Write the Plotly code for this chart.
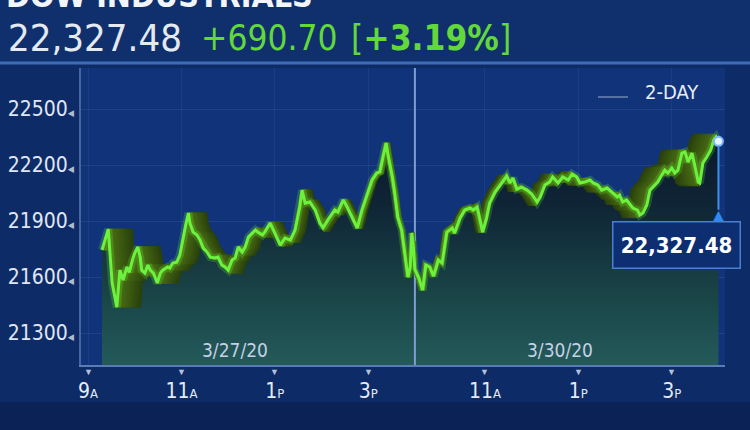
import plotly.graph_objects as go

# ---------------- data ----------------
INDEX_NAME = "DOW INDUSTRIALS"
LAST_VALUE = 22327.48
NET_CHANGE = 690.70
PCT_CHANGE = 3.19

DATES = ["3/27/20", "3/30/20"]

DAY1_TIMES = ["9:18", "9:26", "9:31", "9:37", "9:41", "9:45", "9:50", "9:53", "9:57", "10:00",
              "10:04", "10:07", "10:09", "10:13", "10:17", "10:20", "10:24", "10:29", "10:33", "10:36",
              "10:42", "10:45", "10:49", "10:54", "10:58", "11:02", "11:06", "11:09", "11:11", "11:15",
              "11:20", "11:24", "11:28", "11:33", "11:37", "11:43", "11:47", "11:52", "11:56", "12:00",
              "12:05", "12:09", "12:13", "12:18", "12:22", "12:26", "12:31", "12:35", "12:38", "12:44",
              "12:47", "12:54", "13:00", "13:07", "13:13", "13:20", "13:26", "13:32", "13:35", "13:39",
              "13:45", "13:52", "13:58", "14:02", "14:08", "14:17", "14:21", "14:28", "14:33", "14:39",
              "14:46", "14:52", "14:58", "15:05", "15:11", "15:15", "15:19", "15:23", "15:25", "15:31",
              "15:34", "15:38", "15:43", "15:47", "15:51", "15:54", "15:56", "15:58", "16:00"]
DAY1_VALUES = [21745, 21857, 21568, 21439, 21637, 21584, 21654, 21625, 21691, 21729,
               21761, 21707, 21637, 21621, 21664, 21637, 21621, 21568, 21621, 21637,
               21654, 21648, 21675, 21680, 21718, 21809, 21889, 21943, 21889, 21841,
               21825, 21798, 21755, 21734, 21707, 21702, 21707, 21664, 21654, 21637,
               21691, 21702, 21761, 21734, 21761, 21814, 21836, 21852, 21841, 21825,
               21841, 21889, 21836, 21771, 21809, 21798, 21852, 21975, 22066, 21996,
               22002, 21959, 21889, 21863, 21905, 21959, 21948, 22013, 21975, 21921,
               21863, 21959, 22029, 22120, 22157, 22163, 22243, 22318, 22264, 22136,
               22050, 21921, 21852, 21729, 21600, 21654, 21836, 21761, 21637]

DAY2_TIMES = ["9:30", "9:35", "9:40", "9:44", "9:49", "9:54", "10:00", "10:05", "10:11", "10:18",
              "10:21", "10:28", "10:34", "10:41", "10:45", "10:50", "10:54", "10:57", "11:02", "11:06",
              "11:13", "11:22", "11:28", "11:32", "11:36", "11:41", "11:47", "11:54", "12:00", "12:07",
              "12:11", "12:17", "12:23", "12:27", "12:34", "12:40", "12:47", "12:52", "12:58", "13:02",
              "13:09", "13:15", "13:19", "13:25", "13:30", "13:37", "13:43", "13:50", "13:53", "13:57",
              "14:02", "14:07", "14:10", "14:16", "14:19", "14:23", "14:28", "14:32", "14:36", "14:42",
              "14:47", "14:51", "14:55", "15:00", "15:04", "15:08", "15:13", "15:17", "15:21", "15:26",
              "15:30", "15:34", "15:36", "15:40", "15:45", "15:50", "15:54", "15:57", "16:00"]
DAY2_VALUES = [21640, 21595, 21530, 21664, 21654, 21605, 21691, 21675, 21841, 21863,
               21836, 21916, 21959, 21970, 21959, 21975, 21905, 21841, 21916, 21996,
               22055, 22109, 22141, 22104, 22130, 22071, 22082, 22066, 22045, 22002,
               22029, 22093, 22109, 22136, 22104, 22136, 22120, 22152, 22136, 22104,
               22110, 22120, 22104, 22093, 22066, 22077, 22055, 22029, 22039, 22002,
               22013, 21986, 21970, 21959, 21932, 21943, 21986, 22066, 22082, 22109,
               22146, 22173, 22157, 22184, 22157, 22173, 22264, 22270, 22216, 22264,
               22189, 22109, 22104, 22211, 22243, 22280, 22334, 22350, 22327.48]

Y_TICKS = [21300, 21600, 21900, 22200, 22500]
X_TICK_DAY1_HOURS = [9, 11, 13, 15]
X_TICK_DAY2_HOURS = [11, 13, 15]
X_TICK_LABELS = [("9", "A"), ("11", "A"), ("1", "P"), ("3", "P"), ("11", "A"), ("1", "P"), ("3", "P")]
RANGE_LABEL = "2-DAY"

# ---------------- axis mapping ----------------
OPEN_HOUR = 9.5
DAY_BREAK = 16.0          # day-1 close == day-2 open on the axis
X_MIN, X_MAX = 8.85, 22.64
Y_MIN, Y_MAX = 21129, 22720


def hrs(t):
    h, m = t.split(":")
    return int(h) + int(m) / 60.0


x1 = [hrs(t) for t in DAY1_TIMES]
x2 = [DAY_BREAK + hrs(t) - OPEN_HOUR for t in DAY2_TIMES]
x_all = x1 + x2
v_all = DAY1_VALUES + DAY2_VALUES
tick_x = X_TICK_DAY1_HOURS + [DAY_BREAK + h - OPEN_HOUR for h in X_TICK_DAY2_HOURS]

FONT = "'DejaVu Sans Condensed', 'Liberation Sans Narrow', sans-serif"

fig = go.Figure()

# dark gradient area under the line
fig.add_trace(go.Scatter(
    x=x_all, y=v_all, xaxis="x", yaxis="y", mode="lines", line=dict(width=0),
    fill="tozeroy",
    fillgradient=dict(type="vertical",
                      colorscale=[[0, "#245a5a"], [0.3, "#1a4547"], [0.7, "#0f2536"], [1, "#0b192d"]],
                      start=Y_MIN, stop=22350),
    hoverinfo="skip", showlegend=False))

# day divider
fig.add_trace(go.Scatter(x=[DAY_BREAK, DAY_BREAK], y=[Y_MIN, Y_MAX], xaxis="x", yaxis="y",
                         mode="lines", line=dict(color="#7d9dd2", width=2),
                         hoverinfo="skip", showlegend=False))

# 3D ribbon: copies of the series drawn on axes scaled toward the day break
N_COPIES = 12
K_MAX = 0.074
RIBBON_FAR = (42, 64, 13)
RIBBON_NEAR = (72, 108, 20)
layout_axes = {}
for i in range(N_COPIES):
    f = i / (N_COPIES - 1)
    k = K_MAX * (1 - f) + 0.006 * f
    col = "rgb({},{},{})".format(*[int(a + (b - a) * f) for a, b in zip(RIBBON_FAR, RIBBON_NEAR)])
    s = 1 - k
    a = DAY_BREAK - (DAY_BREAK - X_MIN) / s
    b = DAY_BREAK + (X_MAX - DAY_BREAK) / s
    layout_axes[f"xaxis{i + 2}"] = dict(overlaying="x", range=[a, b], visible=False, anchor="y")
    fig.add_trace(go.Scatter(x=x_all, y=v_all, xaxis=f"x{i + 2}", yaxis="y", mode="lines",
                             line=dict(color=col, width=4.5), hoverinfo="skip", showlegend=False))

# main line on top
top_axis = N_COPIES + 2
layout_axes[f"xaxis{top_axis}"] = dict(overlaying="x", range=[X_MIN, X_MAX], visible=False, anchor="y")
fig.add_trace(go.Scatter(x=x_all, y=v_all, xaxis=f"x{top_axis}", yaxis="y", mode="lines",
                         line=dict(color="rgba(110,245,60,0.22)", width=8),
                         hoverinfo="skip", showlegend=False))
fig.add_trace(go.Scatter(x=x_all, y=v_all, xaxis=f"x{top_axis}", yaxis="y", mode="lines",
                         line=dict(color="#6cf23c", width=3),
                         hoverinfo="skip", showlegend=False))
fig.add_trace(go.Scatter(x=[x_all[-1]], y=[v_all[-1]], xaxis=f"x{top_axis}", yaxis="y", mode="markers",
                         marker=dict(size=9, color="#eaf4ff", line=dict(color="#7fb8ff", width=2)),
                         cliponaxis=False, hoverinfo="skip", showlegend=False))

# ---------------- layout ----------------
H_PX = 297.0
W_PX = 644.0


def py(ypx):
    return (365 - ypx) / H_PX


def px(xpx):
    return (xpx - 81) / W_PX


y_ticktext = [f"{v}<span style='font-size:9px;color:#aebdd6'>\u25c0</span>" for v in Y_TICKS]
x_ticktext = [f"{a}<span style='font-size:13px'>{b}</span>" for a, b in X_TICK_LABELS]

annotations = []
# header
annotations.append(dict(text=f"<b>{INDEX_NAME}</b>", xref="paper", yref="paper", x=px(4), y=py(17),
                        xanchor="left", yanchor="bottom", showarrow=False,
                        font=dict(family=FONT, size=32, color="#f2f5fa")))
annotations.append(dict(text=f"{LAST_VALUE:,.2f}", xref="paper", yref="paper", x=px(6), y=py(38),
                        xanchor="left", yanchor="middle", showarrow=False,
                        font=dict(family=FONT, size=38, color="#e4eaf2")))
annotations.append(dict(text=f"+{NET_CHANGE:.2f}", xref="paper", yref="paper", x=px(199), y=py(38),
                        xanchor="left", yanchor="middle", showarrow=False,
                        font=dict(family=FONT, size=35, color="#63d83a")))
annotations.append(dict(text=f"[<b>+{PCT_CHANGE:.2f}%</b>]", xref="paper", yref="paper", x=px(349), y=py(38),
                        xanchor="left", yanchor="middle", showarrow=False,
                        font=dict(family=FONT, size=35, color="#63d83a")))
# range label
annotations.append(dict(text=RANGE_LABEL, xref="paper", yref="paper", x=px(672), y=py(92),
                        xanchor="center", yanchor="middle", showarrow=False,
                        font=dict(family=FONT, size=20, color="#e8eef8")))
# date labels
for d, xc in zip(DATES, [235, 560]):
    annotations.append(dict(text=d, xref="paper", yref="paper", x=px(xc), y=py(350),
                            xanchor="center", yanchor="middle", showarrow=False,
                            font=dict(family=FONT, size=19, color="#c3d1e6")))
# tick triangles
for tx in tick_x:
    annotations.append(dict(text="\u25bc", xref="x", yref="paper", x=tx, y=0, xanchor="center",
                            yanchor="top", showarrow=False, yshift=2,
                            font=dict(size=9, color="#b4c3da")))
# last value marker
annotations.append(dict(text="", xref=f"x{top_axis}", yref="y", x=x_all[-1], y=v_all[-1],
                        showarrow=True, ax=0, ay=70, arrowhead=0, arrowwidth=2, arrowcolor="#3d8fe8",
                        standoff=5))
annotations.append(dict(text="\u25b2", xref=f"x{top_axis}", yref="y", x=x_all[-1], y=v_all[-1],
                        showarrow=False, yshift=-74, font=dict(size=19, color="#2e8cf0")))
annotations.append(dict(text=f"<b>{v_all[-1]:,.2f}</b>", xref=f"x{top_axis}", yref="y",
                        x=x_all[-1], y=v_all[-1], showarrow=False, xshift=-42, yshift=-104,
                        bgcolor="#0d2f72", bordercolor="#4a7fd0", borderwidth=1.5, borderpad=7,
                        width=112, height=31,
                        font=dict(family=FONT, size=22, color="#ffffff")))

shapes = [
    # header band
    dict(type="rect", xref="paper", yref="paper", x0=-0.2, x1=1.1, y0=py(63), y1=py(-5),
         fillcolor="#10306d", line=dict(width=0), layer="below"),
    dict(type="line", xref="paper", yref="paper", x0=-0.2, x1=1.1, y0=py(63), y1=py(63),
         line=dict(color="#3e6db4", width=3)),
    # bottom darker band
    dict(type="rect", xref="paper", yref="paper", x0=-0.2, x1=1.1, y0=py(432), y1=py(402),
         fillcolor="#0a2255", line=dict(width=0), layer="below"),
    # small line before "2-DAY"
    dict(type="line", xref="paper", yref="paper", x0=px(598), x1=px(628), y0=py(97), y1=py(97),
         line=dict(color="#6f86b0", width=1.5)),
]

fig.update_layout(
    width=750, height=430,
    margin=dict(l=81, r=25, t=68, b=65, autoexpand=False),
    paper_bgcolor="#0d2b67",
    plot_bgcolor="#11337a",
    showlegend=False,
    xaxis=dict(range=[X_MIN, X_MAX], tickvals=tick_x, ticktext=x_ticktext, showline=True,
               linecolor="#5b7db5", linewidth=2, showgrid=True, gridcolor="rgba(130,160,210,0.10)",
               zeroline=False, ticks="", ticklabelstandoff=6,
               tickfont=dict(family=FONT, size=21, color="#e4ebf5")),
    yaxis=dict(range=[Y_MIN, Y_MAX], tickvals=Y_TICKS, ticktext=y_ticktext, showline=True,
               linecolor="rgba(120,150,200,0.55)", linewidth=1.5, showgrid=True,
               gridcolor="rgba(130,160,210,0.13)", zeroline=False, ticks="", ticklabelstandoff=1,
               tickfont=dict(family=FONT, size=21, color="#e0e7f2")),
    annotations=annotations,
    shapes=shapes,
    **layout_axes,
)

fig.write_html("out.html", config={"displayModeBar": False},
               post_script="document.body.style.margin='0';document.body.style.overflow='hidden';")
